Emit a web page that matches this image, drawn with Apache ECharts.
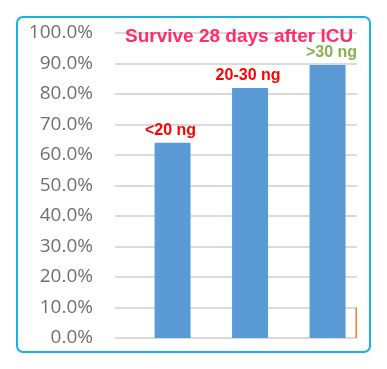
<!DOCTYPE html>
<html><head><meta charset="utf-8">
<script src="https://cdn.jsdelivr.net/npm/echarts@6/dist/echarts.min.js"></script>
<style>html,body{margin:0;padding:0;background:#fff}#c{width:387px;height:369px}</style>
</head><body><div id="c"></div>
<script>
const categories = ['<20 ng', '20-30 ng', '>30 ng'];
const categoryPos = [1, 2, 3];
const survival = [64.0, 82.0, 89.5];
const labelColors = ['#ff0000', '#ff0000', '#8aaf4e'];
const orangePos = [3.37];
const orangeValues = [10.0];
const yTicks = [0, 10, 20, 30, 40, 50, 60, 70, 80, 90, 100];
const title = 'Survive 28 days after ICU';

const hiddenX = {
  type: 'value', min: 0.257, max: 3.38,
  axisLine: {show: false}, axisTick: {show: false}, axisLabel: {show: false}, splitLine: {show: false}
};

const chart = echarts.init(document.getElementById('c'), null, {renderer: 'canvas'});
chart.setOption({
  animation: false,
  backgroundColor: '#fff',
  title: {
    text: title, left: 120, top: 22,
    textStyle: {color: '#ff2d6b', fontFamily: 'Liberation Sans', fontWeight: 'bold', fontSize: 19}
  },
  grid: {left: 115, right: 30, top: 33, bottom: 31, containLabel: false},
  xAxis: [Object.assign({}, hiddenX), Object.assign({}, hiddenX)],
  yAxis: {
    type: 'value', min: yTicks[0], max: yTicks[yTicks.length - 1], interval: 10,
    axisLine: {show: false}, axisTick: {show: false},
    axisLabel: {
      margin: 22, color: '#707070', fontSize: 19, fontFamily: 'Open Sans',
      formatter: v => v.toFixed(1) + '%'
    },
    splitLine: {lineStyle: {color: '#dadada', width: 2}}
  },
  series: [
    {
      type: 'bar', barWidth: 36, xAxisIndex: 0,
      data: survival.map((v, i) => ({
        value: [categoryPos[i], v],
        label: {
          show: true, position: 'top', distance: 4,
          offset: [i === 2 ? 4 : -2, 0],
          formatter: categories[i], color: labelColors[i],
          fontFamily: 'Liberation Sans', fontWeight: 'bold', fontSize: 16
        }
      })),
      itemStyle: {color: '#5b9bd5'}
    },
    {
      type: 'bar', barWidth: 1.5, xAxisIndex: 1,
      data: orangeValues.map((v, i) => [orangePos[i], v]),
      itemStyle: {color: '#ed7d31'}
    }
  ],
  graphic: [{
    type: 'rect', shape: {x: 17, y: 17, width: 353, height: 335, r: 6},
    style: {fill: 'none', stroke: '#1ab0ec', lineWidth: 2}, z: 10
  }]
});
</script></body></html>
